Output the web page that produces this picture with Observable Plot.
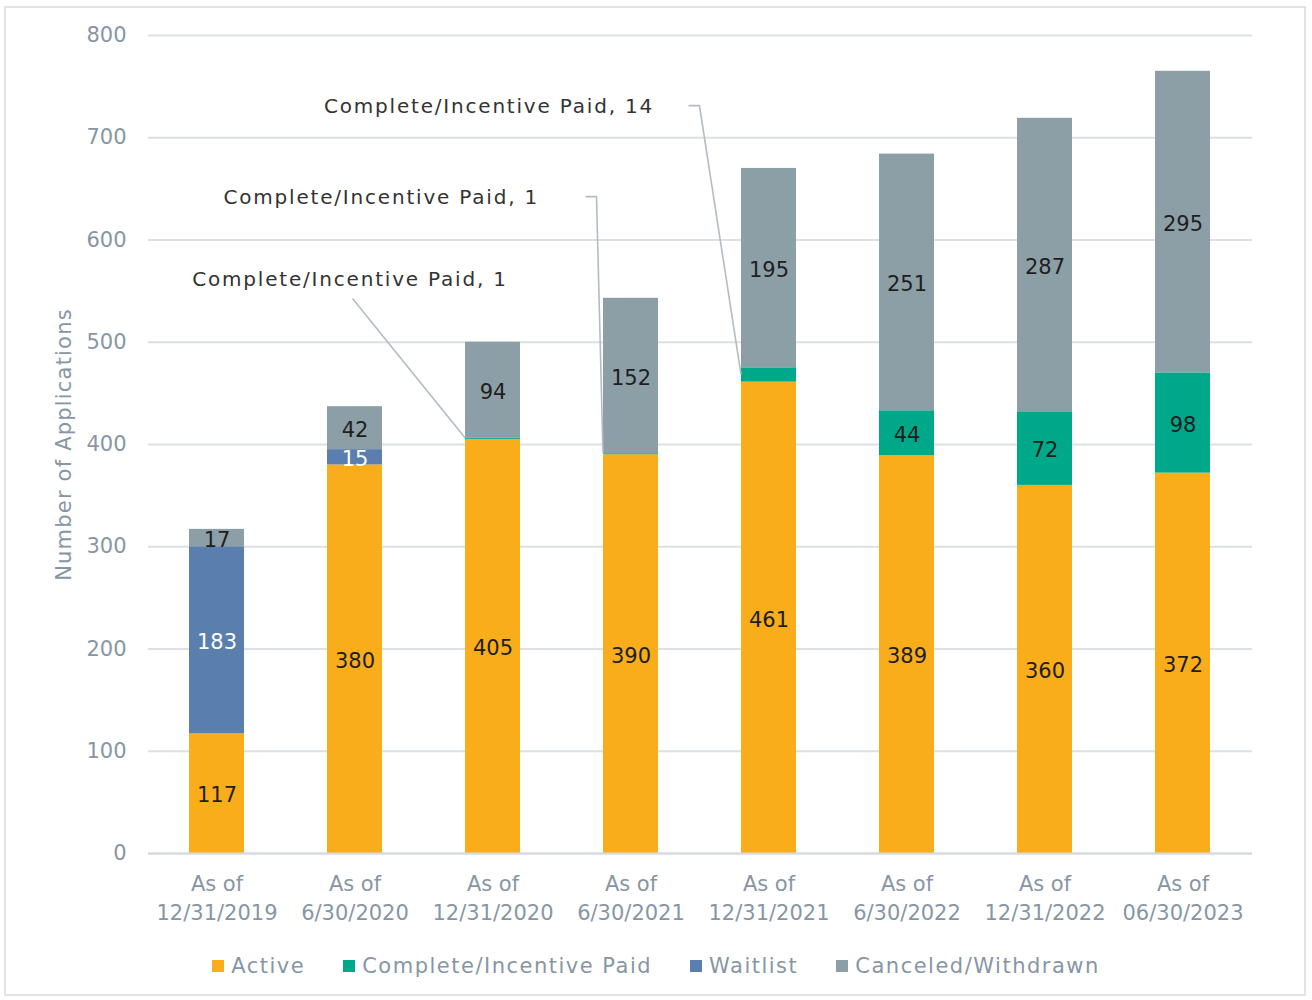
<!DOCTYPE html>
<html><head><meta charset="utf-8">
<script src="https://cdn.jsdelivr.net/npm/d3@7"></script>
<script src="https://cdn.jsdelivr.net/npm/@observablehq/plot@0.6"></script>
<style>
body{margin:0;background:#fff;font-family:"DejaVu Sans",sans-serif;}
#wrap{position:relative;width:1312px;height:1000px;overflow:hidden;}
#frame{position:absolute;left:4px;top:6px;width:1302px;height:990px;border:2px solid #e3e3e3;box-sizing:border-box;}
#chart{position:absolute;left:0;top:0;}
#legend{position:absolute;left:0;top:954px;width:1312px;display:flex;justify-content:center;gap:38px;font-size:21px;letter-spacing:1.5px;color:#8796a5;}
#legend .item{display:flex;align-items:center;gap:7px;}
#legend .sw{width:12px;height:12px;display:inline-block;}
</style></head>
<body><div id="wrap"><div id="frame"></div><div id="chart"></div><div id="legend"></div></div>
<script>
const categories = ["As of\n12/31/2019","As of\n6/30/2020","As of\n12/31/2020","As of\n6/30/2021","As of\n12/31/2021","As of\n6/30/2022","As of\n12/31/2022","As of\n06/30/2023"];
const seriesNames = ["Active","Complete/Incentive Paid","Waitlist","Canceled/Withdrawn"];
const active   = [117,380,405,390,461,389,360,372];
const complete = [0,0,1,1,14,44,72,98];
const waitlist = [183,15,0,0,0,0,0,0];
const canceled = [17,42,94,152,195,251,287,295];
const colors = ["#F9AD1A","#00A88A","#5A7EAD","#8C9FA7"];
const yTicks = [0,100,200,300,400,500,600,700,800];
// callouts for small "Complete/Incentive Paid" segments (category index)
const calloutIdx = [2,3,4];
const calloutLabelY = [561,641,730]; // label height in data units

const seriesVals = [active, complete, waitlist, canceled];
const rows = [];
categories.forEach((c,i)=>seriesNames.forEach((s,j)=>rows.push({cat:c, series:s, value:seriesVals[j][i], ci:i})));

const isCallout = d => d.series === seriesNames[1] && calloutIdx.includes(d.ci);
const tickColor = "#8796a5";
const font = '"DejaVu Sans", sans-serif';

const calloutStyle = [
  {dx:-143, anchor:"middle", lead:0},
  {dx:-92, anchor:"end", lead:47},
  {dx:-115, anchor:"end", lead:35}
];

const calloutMarks = calloutIdx.map((ci,k)=>Plot.text([k], {
  x: () => categories[ci], y: () => calloutLabelY[k],
  text: () => `Complete/Incentive Paid, ${complete[ci]}`,
  dx: calloutStyle[k].dx, textAnchor: calloutStyle[k].anchor,
  fill: "#333", fontSize: 20
}));

const chart = Plot.plot({
  width: 1312, height: 942,
  marginLeft: 148, marginRight: 60, marginTop: 35, marginBottom: 89,
  style: {fontFamily: font, background: "transparent", overflow: "visible"},
  x: {domain: categories, paddingInner: 0.6, paddingOuter: 0.28, label: null},
  y: {domain: [0,800], label: "Number of Applications"},
  color: {domain: seriesNames, range: colors},
  marks: [
    Plot.gridY(yTicks, {stroke: "#dde0e4", strokeOpacity: 1, strokeWidth: 2}),
    Plot.axisY(yTicks, {tickSize: 0, tickPadding: 22, fontSize: 21, fill: tickColor, label: "Number of Applications", labelAnchor: "center", labelArrow: "none", labelOffset: 92}),
    Plot.axisX({tickSize: 0, tickPadding: 17, fontSize: 21, fill: tickColor, lineHeight: 1.37, label: null}),
    Plot.barY(rows, {x: "cat", y: "value", fill: "series", order: seriesNames}),
    Plot.ruleY([0], {stroke: "#d6dade", strokeWidth: 2}),
    Plot.text(rows, Plot.stackY({x: "cat", y: "value", z: "series", order: seriesNames,
      text: d => (d.value === 0 || isCallout(d) || d.series === "Waitlist") ? "" : String(d.value),
      fill: "#1e1e1e", fontSize: 21, dy: 2})),
    Plot.text(rows, Plot.stackY({x: "cat", y: "value", z: "series", order: seriesNames,
      text: d => (d.value !== 0 && d.series === "Waitlist") ? String(d.value) : "",
      fill: "#fff", fontSize: 21, dy: 2})),
    ...calloutMarks
  ]
});
document.getElementById("chart").appendChild(chart);

const svg = d3.select(chart);
// wider letter spacing to mimic the original geometric typeface
const textGroups = svg.selectAll('g[aria-label="text"]').nodes();
textGroups.slice(-calloutIdx.length).forEach(n => d3.select(n).attr("letter-spacing", 1.8));
svg.selectAll('g[aria-label="y-axis label"] text').attr("letter-spacing", 1.2);

// leader lines drawn with the chart's own scales
const xs = chart.scale("x"), ys = chart.scale("y");
const g = svg.append("g").attr("fill","none").attr("stroke","#b4bcc3").attr("stroke-width",1.6);
calloutIdx.forEach((ci,k)=>{
  const left = xs.apply(categories[ci]);
  const segTop = ys.apply(active[ci] + complete[ci]);
  const segMid = ys.apply(active[ci] + complete[ci]/2);
  const ly = ys.apply(calloutLabelY[k]);
  const cx = left + xs.bandwidth/2 + calloutStyle[k].dx;
  if (k === 0) {
    g.append("path").attr("d", `M${cx+3},${ly+19}L${left},${segTop}`);
  } else {
    const sx = cx + calloutStyle[k].lead;
    g.append("path").attr("d", `M${sx},${ly-1}H${sx+11}L${left},${k===2?segMid:segTop}`);
  }
});

const lg = document.getElementById("legend");
seriesNames.forEach((s,j)=>{
  const it = document.createElement("div"); it.className="item";
  const sw = document.createElement("span"); sw.className="sw"; sw.style.background=colors[j];
  const t = document.createElement("span"); t.textContent = s;
  it.appendChild(sw); it.appendChild(t); lg.appendChild(it);
});
</script></body></html>
